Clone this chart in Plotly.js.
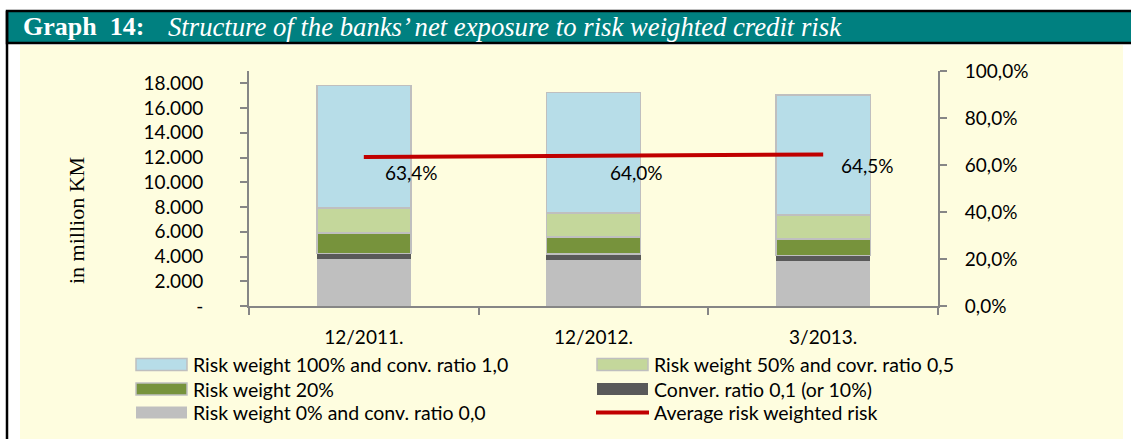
<!DOCTYPE html>
<html>
<head>
<meta charset="utf-8">
<script src="https://cdn.plot.ly/plotly-3.0.1.min.js"></script>
<style>html,body{margin:0;padding:0;background:#fff;}#chart{width:1131px;height:439px;}</style>
</head>
<body>
<div id="chart"></div>
<script>
// ---- data ----
const categories = ['12/2011.', '12/2012.', '3/2013.'];
const seriesNames = [
  'Risk weight 0% and conv. ratio 0,0',
  'Conver. ratio 0,1 (or 10%)',
  'Risk weight 20%',
  'Risk weight 50% and covr. ratio 0,5',
  'Risk weight 100% and conv. ratio 1,0'
];
const rw0 = [3800, 3710, 3600];
const conv01 = [460, 480, 490];
const rw20 = [1660, 1400, 1340];
const rw50 = [2010, 1930, 1940];
const rw100 = [9900, 9760, 9700];
const avgName = 'Average risk weighted risk';
const avgRisk = [0.634, 0.640, 0.645];
const leftTickVals = [0, 2000, 4000, 6000, 8000, 10000, 12000, 14000, 16000, 18000];
const leftTickText = ['-', '2.000', '4.000', '6.000', '8.000', '10.000', '12.000', '14.000', '16.000', '18.000'];
const rightTickVals = [0, 0.2, 0.4, 0.6, 0.8, 1.0];
const titleBold = 'Graph  14:';
const titleItalic = 'Structure of the banks’ net exposure to risk weighted credit risk';
const yTitle = 'in million KM';

// ---- styles ----
const colors = ['#bfbfbf', '#595959', '#77933c', '#c4d79b', '#b7dde8'];
const outlined = [false, false, true, true, true];
const outlineColor = '#bfbfbf';
const lineColor = '#c00000';
const FONT = 'Lato, "Open Sans", sans-serif';
const SERIF = '"Liberation Serif", "DejaVu Serif", serif';
const FS = 19;

// plot-area pixel box
const L = 249, R = 938, T = 71, B = 306, W = 1131, H = 439;
const X = px => (px - L) / (R - L);
const Y = py => (B - py) / (B - T);

const seriesData = [rw0, conv01, rw20, rw50, rw100];
const traces = seriesData.map((vals, i) => ({
  type: 'bar', x: categories, y: vals, name: seriesNames[i],
  width: 0.41,
  marker: { color: colors[i], line: { color: outlined[i] ? outlineColor : colors[i], width: outlined[i] ? 1.5 : 0 } },
  hoverinfo: 'skip', showlegend: false
}));
traces.push({
  type: 'scatter', mode: 'lines', x: categories, y: avgRisk, yaxis: 'y2', name: avgName,
  line: { color: lineColor, width: 4 }, hoverinfo: 'skip', showlegend: false
});

const shapes = [];
const annotations = [];

// background pattern area
shapes.push({ type: 'rect', xref: 'paper', yref: 'paper', layer: 'below',
  x0: X(20), x1: X(1123), y0: Y(45), y1: Y(H), fillcolor: '#fefddf', line: { width: 0 } });
// header band
shapes.push({ type: 'rect', xref: 'paper', yref: 'paper', layer: 'above',
  x0: X(7), x1: X(W + 2), y0: Y(11), y1: Y(43), fillcolor: '#008080', line: { color: '#000', width: 2.5 } });
// left border
shapes.push({ type: 'line', xref: 'paper', yref: 'paper', layer: 'above',
  x0: X(7), x1: X(7), y0: Y(11), y1: Y(H + 2), line: { color: '#000', width: 2.5 } });

annotations.push({ xref: 'paper', yref: 'paper', x: X(21), y: Y(27), xanchor: 'left', yanchor: 'middle',
  text: '<b>' + titleBold.replace(/ /g, '&nbsp;') + '</b>', showarrow: false,
  font: { family: SERIF, size: 26, color: '#ffffff' } });
annotations.push({ xref: 'paper', yref: 'paper', x: X(166), y: Y(27), xanchor: 'left', yanchor: 'middle',
  text: '<i>' + titleItalic + '</i>', showarrow: false,
  font: { family: SERIF, size: 26.7, color: '#ffffff' } });

// y title
annotations.push({ xref: 'paper', yref: 'paper', x: X(76), y: Y(221), xanchor: 'center', yanchor: 'middle',
  text: yTitle, textangle: -90, showarrow: false, font: { family: SERIF, size: 22, color: '#000' } });

// data labels
const labelShift = [[48, -15], [43, -17], [44, -11]];
avgRisk.forEach((v, i) => {
  annotations.push({ x: categories[i], y: v, xref: 'x', yref: 'y2', showarrow: false,
    text: (v * 100).toFixed(1).replace('.', ',') + '%', xshift: labelShift[i][0], yshift: labelShift[i][1],
    font: { family: FONT, size: FS, color: '#000' } });
});

// custom legend
const legendItems = [
  { name: seriesNames[4], kind: 'bar', idx: 4 },
  { name: seriesNames[3], kind: 'bar', idx: 3 },
  { name: seriesNames[2], kind: 'bar', idx: 2 },
  { name: seriesNames[1], kind: 'bar', idx: 1 },
  { name: seriesNames[0], kind: 'bar', idx: 0 },
  { name: avgName, kind: 'line' }
];
const colX = [135, 596];
const rowY = [364.5, 389, 412.5];
legendItems.forEach((it, k) => {
  const cx = colX[k % 2], cy = rowY[Math.floor(k / 2)];
  if (it.kind === 'bar') {
    shapes.push({ type: 'rect', xref: 'paper', yref: 'paper', x0: X(cx + 1), x1: X(cx + 52), y0: Y(cy - 6), y1: Y(cy + 6),
      fillcolor: colors[it.idx], line: { color: outlined[it.idx] ? outlineColor : colors[it.idx], width: outlined[it.idx] ? 1.5 : 0 } });
  } else {
    shapes.push({ type: 'line', xref: 'paper', yref: 'paper', x0: X(cx), x1: X(cx + 53), y0: Y(cy), y1: Y(cy),
      line: { color: lineColor, width: 4 } });
  }
  annotations.push({ xref: 'paper', yref: 'paper', x: X(cx + 56), y: Y(cy), xanchor: 'left', yanchor: 'middle',
    text: it.name, showarrow: false, font: { family: FONT, size: FS + 0.5, color: '#000' } });
});

const axisGray = '#868686';
const layout = {
  width: W, height: H,
  margin: { l: L, r: W - R, t: T, b: H - B, pad: 0 },
  paper_bgcolor: '#ffffff', plot_bgcolor: 'rgba(0,0,0,0)',
  separators: ',.',
  barmode: 'stack',
  showlegend: false,
  font: { family: FONT, size: FS, color: '#000' },
  xaxis: {
    type: 'category', range: [-0.5, 2.5], showline: true, linecolor: axisGray, linewidth: 2,
    ticks: 'outside', tickson: 'boundaries', ticklen: 7, tickcolor: axisGray, tickwidth: 2,
    ticklabelstandoff: 13, showgrid: false, zeroline: false,
    tickfont: { family: FONT, size: FS, color: '#000' }
  },
  yaxis: {
    range: [0, 19000], tickvals: leftTickVals, ticktext: leftTickText,
    showline: true, linecolor: axisGray, linewidth: 2, ticks: 'outside', ticklen: 7, tickcolor: axisGray, tickwidth: 2,
    ticklabelstandoff: 33, showgrid: false, zeroline: false,
    tickfont: { family: FONT, size: FS, color: '#000' }
  },
  yaxis2: {
    overlaying: 'y', side: 'right', range: [0, 1], tickvals: rightTickVals, tickformat: '.1%',
    showline: true, linecolor: axisGray, linewidth: 2, ticks: 'outside', ticklen: 7, tickcolor: axisGray, tickwidth: 2,
    ticklabelstandoff: 14, showgrid: false, zeroline: false,
    tickfont: { family: FONT, size: FS, color: '#000' }
  },
  shapes: shapes,
  annotations: annotations
};

Plotly.newPlot('chart', traces, layout, { staticPlot: true, displayModeBar: false });
</script>
</body>
</html>
